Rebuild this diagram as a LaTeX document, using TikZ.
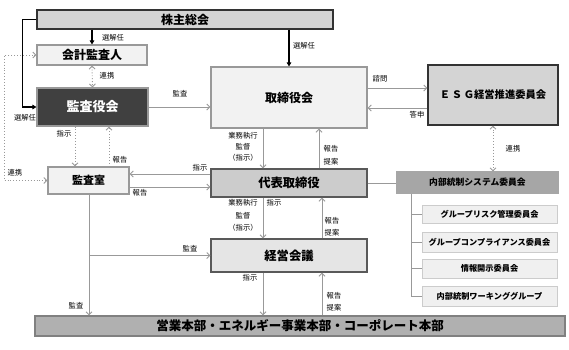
\documentclass[tikz,border=0pt]{standalone}
\usepackage{fontspec}
\setmainfont{Noto Sans CJK JP}
\usetikzlibrary{arrows.meta,calc}
\definecolor{lg}{HTML}{F2F2F2}
\definecolor{mg}{HTML}{D4D4D4}
\definecolor{ln}{HTML}{999999}
\definecolor{dk}{HTML}{333333}
\definecolor{kyk}{HTML}{404040}
\begin{document}
\begin{tikzpicture}[x=1pt,y=-1pt,
  box/.style={draw=ln,line width=1.1pt,fill=lg,inner sep=0pt,font=\bfseries},
  darkbox/.style={box,draw=dk},
  lbl/.style={font=\fontsize{7.3}{11}\selectfont,inner sep=0pt,align=center},
  garr/.style={draw=ln,line width=1pt,-{Straight Barb[length=3pt,width=6pt]}},
  gline/.style={draw=ln,line width=1pt},
  darr/.style={draw=ln,line width=0.9pt,dotted,{Straight Barb[length=3pt,width=6pt]}-{Straight Barb[length=3pt,width=6pt]}},
  darr1/.style={draw=ln,line width=0.9pt,dotted,-{Straight Barb[length=3pt,width=6pt]}},
  barr/.style={draw=black,line width=1.1pt,-{Triangle[length=4pt,width=4.5pt]}}]
\useasboundingbox[fill=white] (0,0) rectangle (569,349);
% nodes
\node[darkbox,fill=mg,minimum width=296pt,minimum height=19pt,font=\bfseries\fontsize{12}{14}\selectfont] (kabu) at (185,19.5) {株主総会};
\node[box,minimum width=110pt,minimum height=20pt,font=\bfseries\fontsize{12}{14}\selectfont] (kaikei) at (92,55) {会計監査人};
\node[box,fill=kyk,text=white,minimum width=111pt,minimum height=38pt,font=\bfseries\fontsize{13}{15}\selectfont] (kansayaku) at (92.5,107) {監査役会};
\node[box,minimum width=156pt,minimum height=61pt,font=\bfseries\fontsize{12}{14}\selectfont] (tori) at (289,97.5) {取締役会};
\node[darkbox,fill=mg,minimum width=130pt,minimum height=60pt,font=\bfseries\fontsize{10.3}{12}\selectfont] (esg) at (493,95) {Ｅ\,Ｓ\,Ｇ経営推進委員会};
\node[box,minimum width=81pt,minimum height=27pt,font=\bfseries\fontsize{11}{13}\selectfont] (shitsu) at (88.5,180.5) {監査室};
\node[box,draw=black!65,fill=black!20,minimum width=156pt,minimum height=28pt,font=\bfseries\fontsize{12.3}{14}\selectfont] (daihyo) at (289,183) {代表取締役};
\node[box,draw=black!65,fill=black!10,minimum width=156pt,minimum height=33pt,font=\bfseries\fontsize{12.3}{14}\selectfont] (keiei) at (289,255.5) {経営会議};
\node[box,draw=black!50,fill=black!31,minimum width=530pt,minimum height=20pt,font=\bfseries\fontsize{12.5}{14}\selectfont] (bottom) at (300,326) {営業本部・エネルギー事業本部・コーポレート本部};
\node[box,draw=black!35,fill=black!35,minimum width=161pt,minimum height=21pt,font=\bfseries\fontsize{8.8}{10}\selectfont] (naibu) at (477.5,182.5) {内部統制システム委員会};
\tikzset{sub/.style={box,draw=black!20,line width=0.9pt,fill=black!6,minimum width=135pt,font=\bfseries\fontsize{8.2}{10}\selectfont}}
\node[sub,minimum height=18pt] (s1) at (489.5,214) {グループリスク管理委員会};
\node[sub,minimum height=20pt] (s2) at (489.5,242) {グループコンプライアンス委員会};
\node[sub,minimum height=19pt] (s3) at (489.5,268.5) {情報開示委員会};
\node[sub,minimum height=20pt] (s4) at (489.5,296) {内部統制ワーキンググループ};
% black arrows
\draw[barr] (kabu.south -| kaikei.north) -- (kaikei.north);
\draw[barr] (kabu.south -| tori.north) -- (tori.north);
\draw[barr] (kabu.west) -- ++(-14,0) |- (kansayaku.west);
% dotted
\draw[darr] (kaikei.south) -- (kansayaku.north);
\draw[darr] (kaikei.west) -- ++(-32,0) |- (shitsu.west);
\draw[darr1] (kansayaku.south -| 75,0) -- (shitsu.north -| 75,0);
\draw[darr1] (shitsu.north -| 109,0) -- (kansayaku.south -| 109,0);
\draw[darr] (esg.south) -- (esg.south |- naibu.north);
% gray arrows
\draw[garr] (kansayaku.east) -- (kansayaku.east -| tori.west);
\draw[garr] (tori.east |- 0,88) -- (esg.west |- 0,88);
\draw[garr] (esg.west |- 0,108) -- (tori.east |- 0,108);
\draw[garr] (tori.south -| 263,0) -- (daihyo.north -| 263,0);
\draw[garr] (daihyo.north -| 319,0) -- (tori.south -| 319,0);
\draw[garr] (daihyo.west |- 0,174) -- (shitsu.east |- 0,174);
\draw[garr] (shitsu.east |- 0,187) -- (daihyo.west |- 0,187);
\draw[garr] (daihyo.south -| 263,0) -- (keiei.north -| 263,0);
\draw[garr] (keiei.north -| 322,0) -- (daihyo.south -| 322,0);
\draw[garr] (keiei.south -| 263,0) -- (bottom.north -| 263,0);
\draw[garr] (bottom.north -| 322,0) -- (keiei.south -| 322,0);
\draw[garr] (shitsu.south -| 89,0) -- (bottom.north -| 89,0);
\draw[garr] (shitsu.south -| 89,0) |- (keiei.west);
\draw[gline] (daihyo.east) -- (daihyo.east -| naibu.west);
% tree
\draw[gline] (naibu.south -| 411,0) |- (s4.west);
\draw[gline] (s1.west) -- (s1.west -| 411,0);
\draw[gline] (s2.west) -- (s2.west -| 411,0);
\draw[gline] (s3.west) -- (s3.west -| 411,0);
% labels
\node[lbl] (l1) at (113,38) {選解任};
\node[lbl] (l2) at (304,46) {選解任};
\node[lbl] (l3) at (25,118) {選解任};
\node[lbl] (l4) at (107,76) {連携};
\node[lbl] (l5) at (64,134) {指示};
\node[lbl] (l6) at (120,160) {報告};
\node[lbl] (l7) at (15,173) {連携};
\node[lbl] (l8) at (180,94) {監査};
\node[lbl] (l9) at (243,147) {業務執行\\監督\\（指示）};
\node[lbl,font=\fontsize{7.3}{13}\selectfont] (l10) at (331,155) {報告\\提案};
\node[lbl] (l11) at (380,79) {諮問};
\node[lbl] (l12) at (417,115) {答申};
\node[lbl] (l13) at (513,149) {連携};
\node[lbl] (l14) at (200,168) {指示};
\node[lbl] (l15) at (140,193) {報告};
\node[lbl,font=\fontsize{7.3}{12.5}\selectfont] (l16) at (243,215.5) {業務執行\\監督\\（指示）};
\node[lbl] (l17) at (274,203) {指示};
\node[lbl,font=\fontsize{7.3}{12}\selectfont] (l18) at (332,227) {報告\\提案};
\node[lbl] (l19) at (190,249) {監査};
\node[lbl] (l20) at (76,306) {監査};
\node[lbl] (l21) at (250,278) {指示};
\node[lbl,font=\fontsize{7.3}{12}\selectfont] (l22) at (334,302) {報告\\提案};
\end{tikzpicture}
\end{document}
